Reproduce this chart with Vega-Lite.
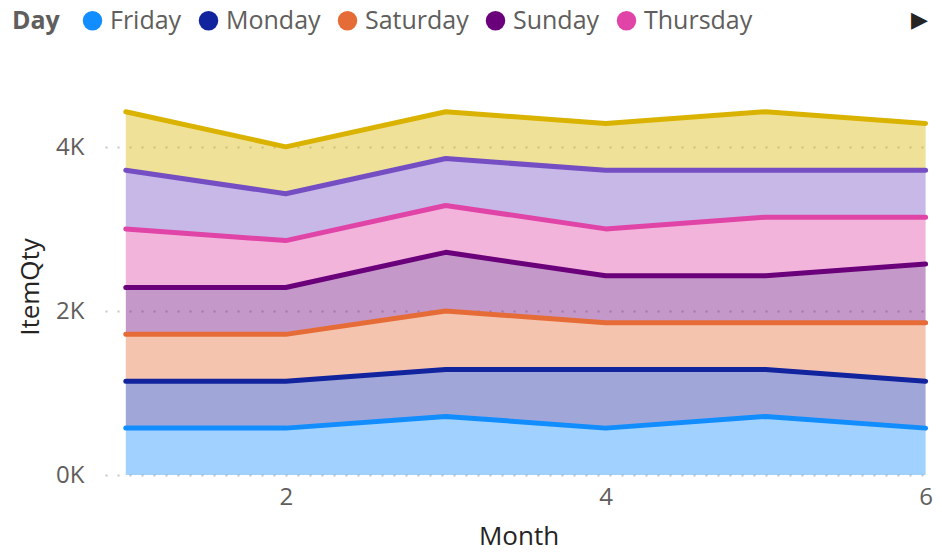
{
  "$schema": "https://vega.github.io/schema/vega-lite/v6.json",
  "width": 827,
  "height": 377,
  "autosize": {"type": "none"},
  "padding": {"left": 105, "top": 98, "right": 10, "bottom": 79},
  "background": "white",
  "title": {"text": "▶", "anchor": "end", "orient": "top", "offset": -24, "fontSize": 22, "color": "#252423", "dx": -4, "fontWeight": "normal"},
  "config": {
    "view": {"stroke": null},
    "font": "Open Sans, Noto Sans, sans-serif"
  },
  "data": {
    "values": [
      {"Month": 1, "Day": "Friday", "ItemQty": 572},
      {"Month": 1, "Day": "Monday", "ItemQty": 572},
      {"Month": 1, "Day": "Saturday", "ItemQty": 572},
      {"Month": 1, "Day": "Sunday", "ItemQty": 572},
      {"Month": 1, "Day": "Thursday", "ItemQty": 715},
      {"Month": 1, "Day": "Tuesday", "ItemQty": 715},
      {"Month": 1, "Day": "Wednesday", "ItemQty": 715},
      {"Month": 2, "Day": "Friday", "ItemQty": 572},
      {"Month": 2, "Day": "Monday", "ItemQty": 572},
      {"Month": 2, "Day": "Saturday", "ItemQty": 572},
      {"Month": 2, "Day": "Sunday", "ItemQty": 572},
      {"Month": 2, "Day": "Thursday", "ItemQty": 572},
      {"Month": 2, "Day": "Tuesday", "ItemQty": 572},
      {"Month": 2, "Day": "Wednesday", "ItemQty": 572},
      {"Month": 3, "Day": "Friday", "ItemQty": 715},
      {"Month": 3, "Day": "Monday", "ItemQty": 572},
      {"Month": 3, "Day": "Saturday", "ItemQty": 715},
      {"Month": 3, "Day": "Sunday", "ItemQty": 715},
      {"Month": 3, "Day": "Thursday", "ItemQty": 572},
      {"Month": 3, "Day": "Tuesday", "ItemQty": 572},
      {"Month": 3, "Day": "Wednesday", "ItemQty": 572},
      {"Month": 4, "Day": "Friday", "ItemQty": 572},
      {"Month": 4, "Day": "Monday", "ItemQty": 715},
      {"Month": 4, "Day": "Saturday", "ItemQty": 572},
      {"Month": 4, "Day": "Sunday", "ItemQty": 572},
      {"Month": 4, "Day": "Thursday", "ItemQty": 572},
      {"Month": 4, "Day": "Tuesday", "ItemQty": 715},
      {"Month": 4, "Day": "Wednesday", "ItemQty": 572},
      {"Month": 5, "Day": "Friday", "ItemQty": 715},
      {"Month": 5, "Day": "Monday", "ItemQty": 572},
      {"Month": 5, "Day": "Saturday", "ItemQty": 572},
      {"Month": 5, "Day": "Sunday", "ItemQty": 572},
      {"Month": 5, "Day": "Thursday", "ItemQty": 715},
      {"Month": 5, "Day": "Tuesday", "ItemQty": 572},
      {"Month": 5, "Day": "Wednesday", "ItemQty": 715},
      {"Month": 6, "Day": "Friday", "ItemQty": 572},
      {"Month": 6, "Day": "Monday", "ItemQty": 572},
      {"Month": 6, "Day": "Saturday", "ItemQty": 715},
      {"Month": 6, "Day": "Sunday", "ItemQty": 715},
      {"Month": 6, "Day": "Thursday", "ItemQty": 572},
      {"Month": 6, "Day": "Tuesday", "ItemQty": 572},
      {"Month": 6, "Day": "Wednesday", "ItemQty": 572}
    ]
  },
  "transform": [
    {"stack": "ItemQty", "groupby": ["Month"], "sort": [{"field": "Day", "order": "ascending"}], "as": ["y0", "y1"]}
  ],
  "encoding": {
    "x": {
      "field": "Month",
      "type": "quantitative",
      "scale": {"domain": [0.87, 6.04], "nice": false, "zero": false},
      "axis": {
        "values": [2, 4, 6],
        "format": "d",
        "grid": false,
        "domain": false,
        "ticks": false,
        "labelFontSize": 24,
        "labelColor": "#605E5C",
        "labelPadding": 10,
        "title": "Month",
        "titleFontSize": 26,
        "titleColor": "#252423",
        "titleFontWeight": "normal",
        "titlePadding": 14
      }
    },
    "y": {
      "field": "y1",
      "type": "quantitative",
      "stack": null,
      "scale": {"domain": [0, 4600], "nice": false},
      "axis": {
        "title": "ItemQty",
        "values": [0, 2000, 4000],
        "labelExpr": "(datum.value/1000) + 'K'",
        "grid": true,
        "gridDash": [2, 10],
        "gridColor": "#C8C6C4",
        "gridWidth": 2,
        "domain": false,
        "ticks": false,
        "labelFontSize": 24,
        "labelColor": "#605E5C",
        "labelPadding": 21,
        "titleFontSize": 26,
        "titleColor": "#252423",
        "titleFontWeight": "normal",
        "titlePadding": 12
      }
    },
    "color": {
      "field": "Day",
      "type": "nominal",
      "scale": {
        "domain": ["Friday", "Monday", "Saturday", "Sunday", "Thursday", "Tuesday", "Wednesday"],
        "range": ["#118DFF", "#12239E", "#E66C37", "#6B007B", "#E044A7", "#744EC2", "#D9B300"]
      },
      "legend": {
        "orient": "none",
        "legendX": -93,
        "legendY": -90,
        "direction": "horizontal",
        "values": ["Friday", "Monday", "Saturday", "Sunday", "Thursday"],
        "title": "Day",
        "titleOrient": "left",
        "titleFontSize": 25,
        "titleFontWeight": "bold",
        "titleColor": "#605E5C",
        "titlePadding": 20,
        "labelFontSize": 25,
        "labelColor": "#605E5C",
        "symbolType": "circle",
        "symbolSize": 380,
        "symbolStrokeWidth": 0,
        "symbolOpacity": 1,
        "labelOffset": 5,
        "columnPadding": 14
      }
    }
  },
  "layer": [
    {
      "mark": {"type": "area", "opacity": 0.4},
      "encoding": {"y2": {"field": "y0"}}
    },
    {
      "mark": {"type": "line", "strokeWidth": 5, "strokeCap": "round", "strokeJoin": "round"}
    }
  ]
}
